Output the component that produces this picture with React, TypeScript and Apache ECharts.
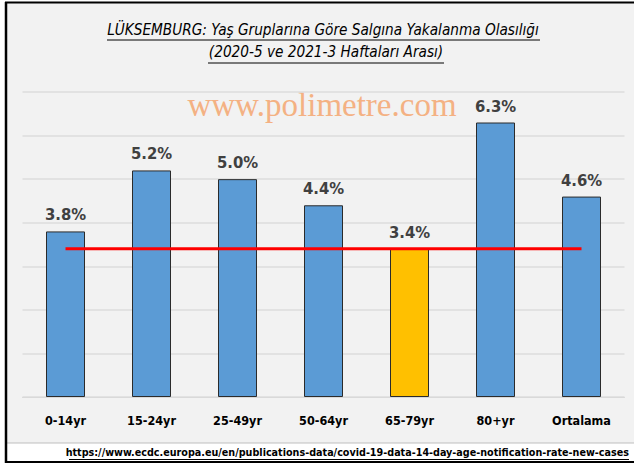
import React, { useEffect, useRef } from "react";
import * as echarts from "echarts";

const categories = ["0-14yr", "15-24yr", "25-49yr", "50-64yr", "65-79yr", "80+yr", "Ortalama"];
const values = [3.8, 5.2, 5.0, 4.4, 3.4, 6.3, 4.6];
const highlightIndex = 4;
const referenceValue = 3.4;
const titleLine1 = "LÜKSEMBURG: Yaş Gruplarına Göre Salgına Yakalanma Olasılığı";
const titleLine2 = "(2020-5 ve 2021-3 Haftaları Arası)";
const watermark = "www.polimetre.com";
const sourceUrl = "https://www.ecdc.europa.eu/en/publications-data/covid-19-data-14-day-age-notification-rate-new-cases";

const NARROW = "'DejaVu Sans Condensed', 'Liberation Sans Narrow', sans-serif";

export default function App() {
  const ref = useRef<HTMLDivElement>(null);
  useEffect(() => {
    if (!ref.current) return;
    const chart = echarts.init(ref.current, null, { renderer: "svg" });
    chart.setOption({
      animation: false,
      backgroundColor: "#ffffff",
      grid: { left: 22.5, right: 9.5, top: 92, bottom: 69 },
      xAxis: {
        type: "category",
        data: categories,
        axisTick: { show: false },
        axisLine: { show: true, lineStyle: { color: "#d9d9d9", width: 1 } },
        axisLabel: {
          color: "#000000",
          fontFamily: NARROW,
          fontWeight: "bold",
          fontSize: 12.5,
          margin: 17,
        },
      },
      yAxis: {
        type: "value",
        min: 0,
        max: 7,
        interval: 1,
        axisLabel: { show: false },
        axisLine: { show: false },
        axisTick: { show: false },
        splitLine: { lineStyle: { color: "#dcdcdc", width: 1.5 } },
      },
      graphic: [
        { type: "rect", shape: { x: 6, y: 3, width: 628, height: 440 }, style: { fill: "#f2f2f2" }, z: -10 },
        { type: "rect", shape: { x: 6, y: 443, width: 628, height: 19 }, style: { fill: "#ffffff" }, z: -10 },
        { type: "line", shape: { x1: 6, y1: 443, x2: 634, y2: 443 }, style: { stroke: "#bfbfbf", lineWidth: 1 } },
        { type: "line", shape: { x1: 6, y1: 2, x2: 6, y2: 463 }, style: { stroke: "#000000", lineWidth: 2.5 } },
        { type: "line", shape: { x1: 5, y1: 2.5, x2: 634, y2: 2.5 }, style: { stroke: "#000000", lineWidth: 2 } },
        { type: "line", shape: { x1: 5, y1: 462, x2: 634, y2: 462 }, style: { stroke: "#000000", lineWidth: 2 } },
        {
          type: "text",
          x: 323,
          y: 30,
          style: {
            text: titleLine1,
            fontFamily: NARROW,
            fontStyle: "italic",
            fontSize: 15.2,
            fill: "#000000",
            align: "center",
            verticalAlign: "middle",
          },
        },
        { type: "line", shape: { x1: 107, y1: 40, x2: 540, y2: 40 }, style: { stroke: "#000000", lineWidth: 1 } },
        {
          type: "text",
          x: 326,
          y: 52,
          style: {
            text: titleLine2,
            fontFamily: NARROW,
            fontStyle: "italic",
            fontSize: 15.2,
            fill: "#000000",
            align: "center",
            verticalAlign: "middle",
          },
        },
        { type: "line", shape: { x1: 208, y1: 63, x2: 444, y2: 63 }, style: { stroke: "#000000", lineWidth: 1 } },
        {
          type: "text",
          x: 322,
          y: 105,
          z: -5,
          style: {
            text: watermark,
            fontFamily: "'Liberation Serif', 'Times New Roman', serif",
            fontSize: 33,
            fill: "#f4b183",
            align: "center",
            verticalAlign: "middle",
          },
        },
        {
          type: "text",
          x: 629,
          y: 452,
          style: {
            text: sourceUrl,
            fontFamily: NARROW,
            fontWeight: "bold",
            fontSize: 10.7,
            fill: "#000000",
            align: "right",
            verticalAlign: "middle",
          },
        },
        { type: "line", shape: { x1: 69, y1: 459.5, x2: 629, y2: 459.5 }, style: { stroke: "#000000", lineWidth: 1 } },
      ],
      series: [
        {
          type: "bar",
          barWidth: 39,
          data: values.map((v, i) => ({
            value: v,
            itemStyle: {
              color: i === highlightIndex ? "#ffc000" : "#5b9bd5",
              borderColor: "#2b2b2b",
              borderWidth: 1,
            },
          })),
          label: {
            show: true,
            position: "top",
            distance: 8,
            formatter: (p: any) => p.value.toFixed(1) + "%",
            color: "#404040",
            fontFamily: NARROW,
            fontWeight: "bold",
            fontSize: 16.5,
          },
          z: 2,
        },
        {
          type: "line",
          data: categories.map(() => referenceValue),
          symbol: "none",
          lineStyle: { color: "#ff0000", width: 3 },
          z: 3,
        },
      ],
    });
    return () => chart.dispose();
  }, []);
  return (
    <div
      ref={ref}
      style={{ position: "absolute", left: 0, top: 0, width: 634, height: 466 }}
    />
  );
}
